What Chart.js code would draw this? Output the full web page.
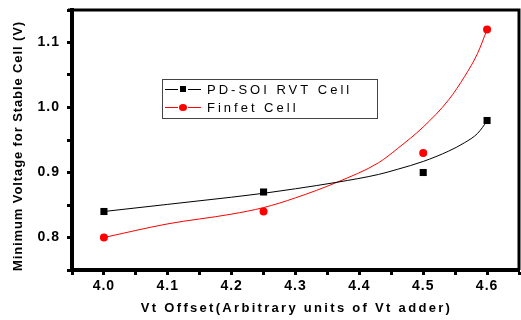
<!DOCTYPE html>
<html>
<head>
<meta charset="utf-8">
<script src="https://cdn.jsdelivr.net/npm/chart.js@4.4.0/dist/chart.umd.js"></script>
<style>
    html, body { margin: 0; padding: 0; background: #fff; }
    #wrap { width: 521px; height: 320px; position: relative; }
</style>
</head>
<body>
<div id="wrap"><canvas id="chart"></canvas></div>
<script>
// measured points
const xPoints = [4.0, 4.25, 4.5, 4.6];
const pdSoi = [0.84, 0.87, 0.90, 0.98];
const finfet = [0.80, 0.84, 0.93, 1.12];

// fitted curves
const fitX = [4.0, 4.1, 4.2, 4.25, 4.3, 4.365, 4.43, 4.46, 4.5, 4.54, 4.565, 4.585, 4.6];
const pdSoiFit = [0.840, 0.851, 0.862, 0.868, 0.875, 0.885, 0.897, 0.905, 0.917, 0.933, 0.946, 0.960, 0.979];
const finfetFit = [0.800, 0.821, 0.836, 0.846, 0.861, 0.885, 0.915, 0.937, 0.970, 1.012, 1.048, 1.083, 1.120];

const seriesNames = ['PD-SOI RVT Cell', 'Finfet Cell'];
const seriesColors = ['#000000', '#ff0000'];
const xTitle = 'Vt Offset(Arbitrary units of Vt adder)';
const yTitle = 'Minimum Voltage for Stable Cell (V)';

const toXY = (xs, ys) => xs.map((x, i) => ({ x: x, y: ys[i] }));

// frame, axis titles and legend box
const decorPlugin = {
    id: 'decor',
    beforeDraw(chart) {
        chart.ctx.letterSpacing = '1px';
    },
    afterDraw(chart) {
        const ctx = chart.ctx;
        const a = chart.chartArea;
        ctx.save();
        // top and right frame
        ctx.strokeStyle = '#000';
        ctx.lineWidth = 3;
        ctx.beginPath();
        ctx.moveTo(a.left - 4, a.top);
        ctx.lineTo(a.right, a.top);
        ctx.lineTo(a.right, a.bottom);
        ctx.stroke();

        // axis titles
        ctx.fillStyle = '#000';
        ctx.font = 'bold 13px "Liberation Sans", Arial, sans-serif';
        ctx.textAlign = 'center';
        ctx.textBaseline = 'middle';
        ctx.letterSpacing = '2.3px';
        ctx.fillText(xTitle, (a.left + a.right) / 2 + 1, 308);
        ctx.letterSpacing = '0.9px';
        ctx.translate(18, 146);
        ctx.rotate(-Math.PI / 2);
        ctx.fillText(yTitle, 0, 0);
        ctx.restore();

        // legend
        ctx.save();
        ctx.strokeStyle = '#444';
        ctx.lineWidth = 1;
        ctx.strokeRect(162.5, 79.5, 215, 39);
        ctx.font = '13px "Liberation Sans", Arial, sans-serif';
        ctx.textBaseline = 'middle';
        ctx.textAlign = 'left';
        ctx.letterSpacing = '3px';
        const rows = [89, 107];
        seriesNames.forEach((name, i) => {
            const y = rows[i];
            ctx.strokeStyle = seriesColors[i];
            ctx.fillStyle = seriesColors[i];
            ctx.beginPath();
            ctx.moveTo(165, y + 0.5); ctx.lineTo(178, y + 0.5);
            ctx.moveTo(188, y + 0.5); ctx.lineTo(201, y + 0.5);
            ctx.stroke();
            if (i === 0) {
                ctx.fillRect(180, y - 3, 6, 6);
            } else {
                ctx.beginPath();
                ctx.ellipse(183, y + 0.5, 4, 3.5, 0, 0, Math.PI * 2);
                ctx.fill();
            }
            ctx.fillStyle = '#000';
            ctx.fillText(name, 207, y + 1);
        });
        ctx.restore();
    }
};

const tickFont = { family: '"Liberation Sans", Arial, sans-serif', size: 14, weight: 'bold' };

new Chart(document.getElementById('chart'), {
    type: 'scatter',
    data: {
        datasets: [
            {
                label: seriesNames[0] + ' fit',
                data: toXY(fitX, pdSoiFit),
                showLine: true,
                borderColor: seriesColors[0],
                borderWidth: 1,
                pointRadius: 0,
                cubicInterpolationMode: 'monotone'
            },
            {
                label: seriesNames[1] + ' fit',
                data: toXY(fitX, finfetFit),
                showLine: true,
                borderColor: seriesColors[1],
                borderWidth: 1,
                pointRadius: 0,
                cubicInterpolationMode: 'monotone'
            },
            {
                label: seriesNames[0],
                data: toXY(xPoints, pdSoi),
                pointStyle: 'rect',
                pointRadius: 5,
                backgroundColor: seriesColors[0],
                borderColor: seriesColors[0],
                borderWidth: 0
            },
            {
                label: seriesNames[1],
                data: toXY(xPoints, finfet),
                pointStyle: 'circle',
                pointRadius: 4,
                backgroundColor: seriesColors[1],
                borderColor: seriesColors[1],
                borderWidth: 0
            }
        ]
    },
    options: {
        responsive: true,
        maintainAspectRatio: false,
        animation: false,
        layout: { autoPadding: false, padding: { left: 0, right: 2, top: 10, bottom: 0 } },
        plugins: {
            legend: { display: false },
            tooltip: { enabled: false }
        },
        scales: {
            x: {
                type: 'linear',
                min: 3.95,
                max: 4.65,
                afterFit: (scale) => {
                    scale.height = 50;
                    scale.paddingLeft = 0;
                    scale.paddingRight = 0;
                },
                afterBuildTicks: (scale) => {
                    const t = [];
                    for (let k = 0; k <= 14; k++) t.push({ value: 3.95 + k * 0.05 });
                    scale.ticks = t;
                },
                border: { display: true, color: '#000', width: 4 },
                grid: {
                    drawOnChartArea: false,
                    drawTicks: true,
                    tickLength: 5,
                    tickWidth: 3,
                    tickColor: '#000'
                },
                ticks: {
                    autoSkip: false,
                    maxRotation: 0,
                    padding: 3,
                    color: '#000',
                    font: tickFont,
                    callback: (v) => {
                        const h = Math.round(v * 100);
                        return (h % 10 === 0 && h >= 400 && h <= 460) ? (h / 100).toFixed(1) : '';
                    }
                }
            },
            y: {
                type: 'linear',
                min: 0.75,
                max: 1.15,
                afterFit: (scale) => {
                    scale.width = 72;
                    scale.paddingTop = 0;
                    scale.paddingBottom = 0;
                },
                afterBuildTicks: (scale) => {
                    const t = [];
                    for (let k = 0; k <= 8; k++) t.push({ value: 0.75 + k * 0.05 });
                    scale.ticks = t;
                },
                border: { display: true, color: '#000', width: 4 },
                grid: {
                    drawOnChartArea: false,
                    drawTicks: true,
                    tickLength: 5,
                    tickWidth: 3,
                    tickColor: '#000'
                },
                ticks: {
                    autoSkip: false,
                    padding: 7,
                    color: '#000',
                    font: tickFont,
                    callback: (v) => {
                        const h = Math.round(v * 100);
                        return (h % 10 === 0) ? (h / 100).toFixed(1) : '';
                    }
                }
            }
        }
    },
    plugins: [decorPlugin]
});
</script>
</body>
</html>
